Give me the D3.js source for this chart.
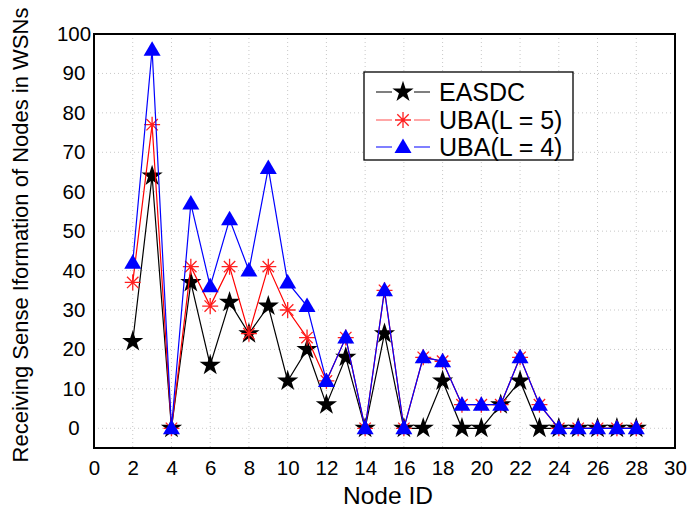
<!DOCTYPE html>
<html><head><meta charset="utf-8">
<script src="https://cdn.jsdelivr.net/npm/d3@7"></script>
<style>body{margin:0;background:#fff}svg{display:block}text{font-family:"Liberation Sans",Arial,sans-serif}</style>
</head><body><svg id="c" width="688" height="510"></svg>
<script>
const nodes = [2,3,4,5,6,7,8,9,10,11,12,13,14,15,16,17,18,19,20,21,22,23,24,25,26,27,28];
const easdc = [22,64,0,37,16,32,24,31,12,20,6,18,0,24,0,0,12,0,0,6,12,0,0,0,0,0,0];
const uba5  = [37,77,0,41,31,41,24,41,30,23,12,23,0,35,0,18,17,6,6,6,18,6,0,0,0,0,0];
const uba4  = [42,96,0,57,36,53,40,66,37,31,12,23,0,35,0,18,17,6,6,6,18,6,0,0,0,0,0];
const xTicks = d3.range(0,31,2);
const yTicks = d3.range(0,101,10);
const seriesNames = ["EASDC","UBA(L = 5)","UBA(L = 4)"];

const svg = d3.select("#c");
const L=94,R=675,T=34,B=448;
const x = d3.scaleLinear().domain([0,30]).range([L,R]);
const y = d3.scaleLinear().domain([-5,100]).range([B,T]);

// grid
const g = svg.append("g");
g.selectAll("line.gx").data(xTicks.slice(1,-1)).join("line")
 .attr("x1",d=>x(d)).attr("x2",d=>x(d)).attr("y1",T).attr("y2",B)
 .attr("stroke","#c8c8c8").attr("stroke-width",1).attr("stroke-dasharray","1,3");
g.selectAll("line.gy").data(yTicks).join("line")
 .attr("x1",L).attr("x2",R).attr("y1",d=>y(d)).attr("y2",d=>y(d))
 .attr("stroke","#c8c8c8").attr("stroke-width",1).attr("stroke-dasharray","1,3");

// axes
const xa = svg.append("g").attr("transform",`translate(0,${B})`).call(d3.axisBottom(x).tickValues(xTicks).tickSize(0).tickPadding(12));
const ya = svg.append("g").attr("transform",`translate(${L},0)`).call(d3.axisLeft(y).tickValues(yTicks).tickSize(0).tickPadding(26));
[xa,ya].forEach(a=>{a.select(".domain").remove();a.selectAll("text").attr("font-size",20.5).attr("fill","#000").style("font-family","'Liberation Sans',Arial,sans-serif");});
ya.selectAll("text").attr("text-anchor","middle");
ya.selectAll(".tick text").attr("x",-20);

svg.append("rect").attr("x",L).attr("y",T).attr("width",R-L).attr("height",B-T)
 .attr("fill","none").attr("stroke","#000").attr("stroke-width",2);

svg.append("text").attr("x",388).attr("y",504).attr("text-anchor","middle").attr("font-size",24.5).text("Node ID");
svg.append("text").attr("transform",`translate(28,235) rotate(-90)`).attr("text-anchor","middle").attr("font-size",22).text("Receiving Sense Iformation of Nodes in WSNs");

// markers
const star = d3.symbol().type(d3.symbolStar).size(140)();
const tri = "M0,-8.5L8.5,6L-8.5,6Z";
const ast = "M-8,0H8M0,-8V8M-5.7,-5.7L5.7,5.7M-5.7,5.7L5.7,-5.7";
const series = [
 {name:seriesNames[0], vals:easdc, color:"#000", mark:star, fill:"#000", stroke:"none"},
 {name:seriesNames[1], vals:uba5, color:"#ff0000", mark:ast, fill:"none", stroke:"#ff2020"},
 {name:seriesNames[2], vals:uba4, color:"#0000ff", mark:tri, fill:"#0000ff", stroke:"none"}
];
const line = d3.line().x(d=>x(d[0])).y(d=>y(d[1]));
series.forEach(s=>{
  const pts = nodes.map((n,i)=>[n,s.vals[i]]);
  svg.append("path").attr("d",line(pts)).attr("fill","none").attr("stroke",s.color).attr("stroke-width",1.2);
  svg.append("g").selectAll("path").data(pts).join("path")
   .attr("transform",d=>`translate(${x(d[0])},${y(d[1])})`).attr("d",s.mark)
   .attr("fill",s.fill).attr("stroke",s.stroke).attr("stroke-width",1.3);
});

// legend
const lg = svg.append("g");
lg.append("rect").attr("x",364).attr("y",72).attr("width",209).attr("height",88).attr("fill","#fff").attr("stroke","#000").attr("stroke-width",1.3);
const ly=[92,120,147];
series.forEach((s,i)=>{
  lg.append("line").attr("x1",376).attr("x2",430).attr("y1",ly[i]).attr("y2",ly[i]).attr("stroke",i==1?"#ff5050":s.color).attr("stroke-width",1.2);
  lg.append("rect").attr("x",392).attr("y",ly[i]-9).attr("width",22).attr("height",18).attr("fill","#fff");
  lg.append("path").attr("transform",`translate(403,${ly[i]})`).attr("d",s.mark).attr("fill",s.fill).attr("stroke",s.stroke).attr("stroke-width",1.3);
  lg.append("text").attr("x",439).attr("y",ly[i]+9).attr("font-size",25).text(s.name);
});
</script></body></html>
